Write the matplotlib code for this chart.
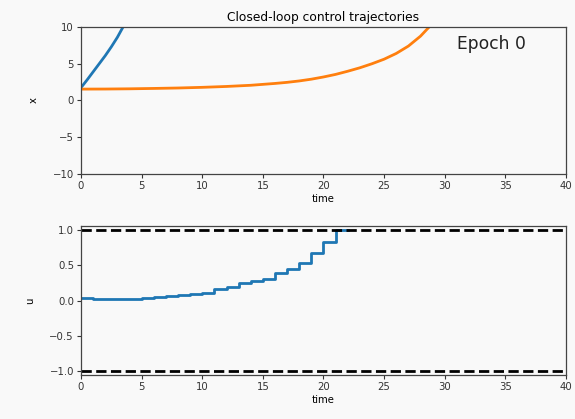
import matplotlib
matplotlib.use("Agg")
import matplotlib.pyplot as plt
import numpy as np

# State trajectories (time, value)
t_x1 = [0.0, 0.5, 1.0, 1.5, 2.0, 2.5, 3.0, 3.5, 4.0]
x1 = [1.75, 2.8, 3.9, 5.0, 6.1, 7.3, 8.6, 10.1, 11.7]

t_x2 = [0, 2, 4, 6, 8, 10, 12, 14, 16, 17, 18, 19, 20, 21, 22, 23, 24, 25,
        26, 27, 28, 29]
x2 = [1.55, 1.56, 1.59, 1.64, 1.70, 1.79, 1.91, 2.07, 2.32, 2.47, 2.66, 2.9,
      3.2, 3.55, 3.98, 4.45, 5.0, 5.62, 6.4, 7.4, 8.75, 10.5]

# Piecewise-constant control input, one value per unit time step
# (last value repeated to close the final step)
t_u = list(range(0, 23))
u = [0.041, 0.027, 0.025, 0.025, 0.026, 0.036, 0.05, 0.06, 0.074, 0.088,
     0.113, 0.162, 0.195, 0.242, 0.28, 0.31, 0.387, 0.453, 0.538, 0.669,
     0.828, 1.0, 1.0]

u_bounds = [-1.0, 1.0]
epoch_label = "Epoch 0"

bg = "#f9f9f9"
fig = plt.figure(figsize=(5.75, 4.19), dpi=100, facecolor=bg)
ax1 = fig.add_axes([0.1409, 0.5847, 0.8434, 0.3509], facecolor=bg)
ax2 = fig.add_axes([0.1409, 0.105, 0.8434, 0.3556], facecolor=bg)

fs = 7.3
ax1.plot(t_x1, x1, color="C0", lw=2)
ax1.plot(t_x2, x2, color="C1", lw=2)
ax1.set_xlim(0, 40)
ax1.set_ylim(-10, 10)
ax1.set_xlabel("time", fontsize=fs, labelpad=2)
ax1.set_ylabel("x", fontsize=fs, labelpad=10)
ax1.set_title("Closed-loop control trajectories", fontsize=8.8, pad=4)
ax1.text(0.775, 0.945, epoch_label, transform=ax1.transAxes,
         fontsize=12.3, ha="left", va="top", color="#222222")

ax2.plot(t_u, u, color="C0", lw=2, drawstyle="steps-post")
for b in u_bounds:
    ax2.axhline(b, color="black", lw=2, ls="--")
ax2.set_xlim(0, 40)
ax2.set_ylim(-1.06, 1.06)
ax2.set_yticks([-1.0, -0.5, 0.0, 0.5, 1.0])
ax2.set_xlabel("time", fontsize=fs, labelpad=2)
ax2.set_ylabel("u", fontsize=fs, labelpad=10)

for ax in (ax1, ax2):
    ax.set_xticks(np.arange(0, 41, 5))
    ax.tick_params(labelsize=fs, length=3, width=0.8, pad=2, colors="#333333")
    for s in ax.spines.values():
        s.set_color("#444444")
        s.set_linewidth(0.9)

fig.savefig("out.png", dpi=100, facecolor=bg)
